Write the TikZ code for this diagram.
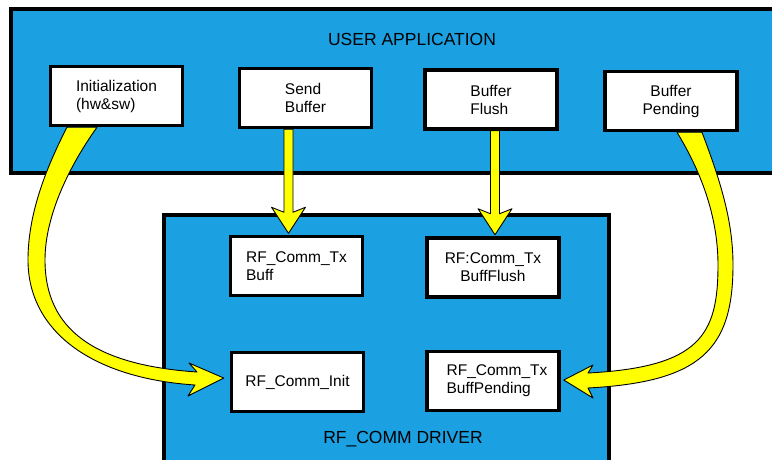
\documentclass[tikz,border=0pt]{standalone}
\usepackage{fontspec}
\setmainfont{Liberation Sans}
\usetikzlibrary{calc}
\definecolor{panelblue}{RGB}{27,161,226}
\definecolor{flowyellow}{RGB}{255,255,0}
\pgfdeclarelayer{panels}
\pgfdeclarelayer{flows}
\pgfsetlayers{panels,flows,main}

% straight fat downward arrow: #1 = start point, #2 = tip point
\newcommand\downflow[2]{%
  \draw[flow] ($(#1)+(-4.5,0)$) -- ($(#2)+(-4.5,-21)$) -- ($(#2)+(-17,-26)$)
    -- (#2) -- ($(#2)+(17,-26)$) -- ($(#2)+(4.5,-21)$) -- ($(#1)+(4.5,0)$) -- cycle;}

\begin{document}
\begin{tikzpicture}[x=1pt,y=-1pt,
  panel/.style={draw=black, fill=panelblue, line width=4pt},
  block/.style={draw=black, fill=white, line width=3.5pt, minimum width=132pt,
    minimum height=59pt, inner sep=0pt, font=\fontsize{15.5}{18}\selectfont},
  flow/.style={fill=flowyellow, draw=black, line width=0.9pt, line join=round},
  heading/.style={font=\fontsize{17.5}{21}\selectfont, inner sep=0pt, anchor=base}]

\useasboundingbox (0,0) rectangle (772,459);
\clip (0,0) rectangle (772,459);

% application-level blocks
\node[block, align=left]   (init)  at (116.5,96)  {Initialization\\(hw\&sw)};
\node[block, align=left]   (send)  at (305.5,98)  {Send\\Buffer};
\node[block, align=left]   (flush) at (491,99.5)  {Buffer\\Flush};
\node[block, align=center] (pend)  at (671,101)   {Buffer\\Pending};

% driver-level blocks
\node[block, align=left]   (rftx)    at (296.5,266) {RF\_Comm\_Tx\\Buff};
\node[block]               (rfinit)  at (297.5,382) {RF\_Comm\_Init};
\node[block, align=center] (rfflush) at (493,267.5) {RF:Comm\_Tx\\BuffFlush};
\node[block, align=left]   (rfpend)  at (493,381)
  {\hspace*{8pt}RF\_Comm\_Tx\\\hspace*{8pt}BuffPending};

% panel titles
\node[heading] (userapp) at (412,45)  {USER APPLICATION};
\node[heading] (driver)  at (403,443) {RF\_COMM DRIVER};

% background panels
\begin{pgfonlayer}{panels}
  \draw[panel] (11,9) rectangle (800,172.5);
  \draw[panel] (163.5,214.5) rectangle (608.5,480);
\end{pgfonlayer}

% flows between layers
\begin{pgfonlayer}{flows}
  \coordinate (colA) at (288.5,0);
  \coordinate (colB) at (495,0);
  \coordinate (sendOut)  at (send.south -| colA);
  \coordinate (txIn)     at ($(rftx.north -| colA)+(0,-1.5)$);
  \coordinate (flushOut) at (flush.south -| colB);
  \coordinate (flIn)     at ($(rfflush.north -| colB)+(0,-1.5)$);
  \downflow{sendOut}{txIn}
  \downflow{flushOut}{flIn}

  \coordinate (initA)   at ($(init.south)+(-49.5,0)$);
  \coordinate (initB)   at ($(init.south)+(-19.5,0)$);
  \coordinate (initTip) at ($(rfinit.west)+(-6,-4)$);
  \draw[flow] (initA) .. controls (45,170) and (28,215) .. (28,260)
    .. controls (28,330) and (90,378) .. (195,385)
    -- (188,396) -- (initTip) -- (189,363) -- (197,372)
    .. controls (95,365) and (45,330) .. (45,260)
    .. controls (45,215) and (70,165) .. (initB) -- cycle;

  \coordinate (pendA)   at ($(pend.south)+(31,0)$);
  \coordinate (pendB)   at ($(pend.south)+(6,0)$);
  \coordinate (pendTip) at ($(rfpend.east)+(3,-1)$);
  \draw[flow] (pendA) .. controls (720,180) and (733,220) .. (733,265)
    .. controls (733,350) and (700,382) .. (588,388)
    -- (593,398) -- (pendTip) -- (593,365) -- (588,373)
    .. controls (700,367) and (718,335) .. (718,265)
    .. controls (718,215) and (700,170) .. (pendB) -- cycle;
\end{pgfonlayer}
\end{tikzpicture}
\end{document}
